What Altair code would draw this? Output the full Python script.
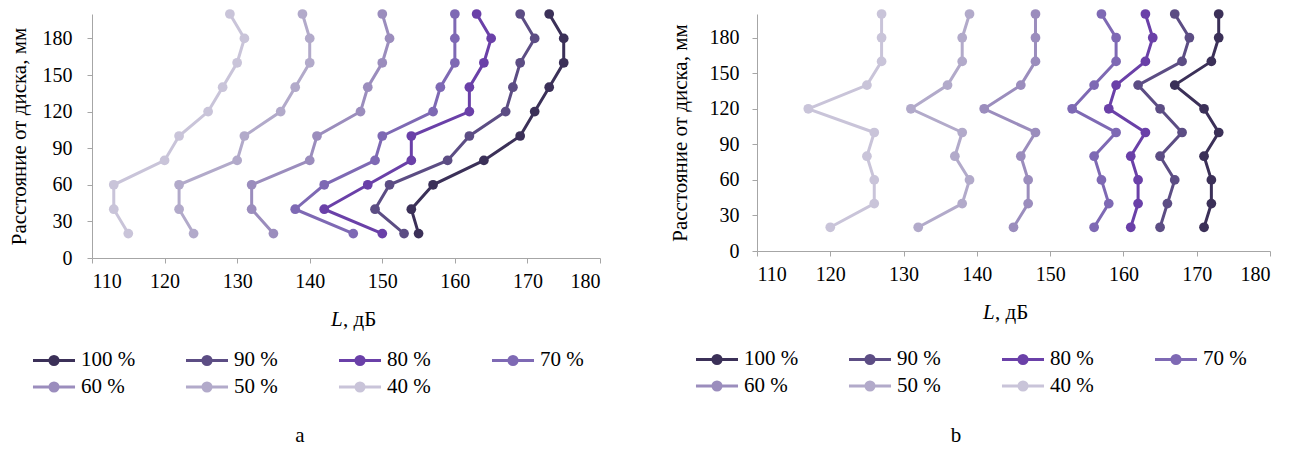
import altair as alt
import pandas as pd

# ---- data ----
distance = [20, 40, 60, 80, 100, 120, 140, 160, 180, 200]
series_names = ["100 %", "90 %", "80 %", "70 %", "60 %", "50 %", "40 %"]
series_colors = ["#3B3058", "#5C4D84", "#6A40A8", "#7E69B4", "#9B8DBD", "#B2AACA", "#C9C4D9"]

a_100 = [155, 154, 157, 164, 169, 171, 173, 175, 175, 173]
a_90 = [153, 149, 151, 159, 162, 167, 168, 169, 171, 169]
a_80 = [150, 142, 148, 154, 154, 162, 162, 164, 165, 163]
a_70 = [146, 138, 142, 149, 150, 157, 158, 160, 160, 160]
a_60 = [135, 132, 132, 140, 141, 147, 148, 150, 151, 150]
a_50 = [124, 122, 122, 130, 131, 136, 138, 140, 140, 139]
a_40 = [115, 113, 113, 120, 122, 126, 128, 130, 131, 129]

b_100 = [171, 172, 172, 171, 173, 171, 167, 172, 173, 173]
b_90 = [165, 166, 167, 165, 168, 165, 162, 168, 169, 167]
b_80 = [161, 162, 162, 161, 163, 158, 159, 163, 164, 163]
b_70 = [156, 158, 157, 156, 159, 153, 156, 159, 159, 157]
b_60 = [145, 147, 147, 146, 148, 141, 146, 148, 148, 148]
b_50 = [132, 138, 139, 137, 138, 131, 136, 138, 138, 139]
b_40 = [120, 126, 126, 125, 126, 117, 125, 127, 127, 127]

x_ticks = [110, 120, 130, 140, 150, 160, 170, 180]
y_ticks = [0, 30, 60, 90, 120, 150, 180]

y_title = "Расстояние от диска, мм"
x_title_italic = "L"
x_title_rest = ", дБ"

FONT = "Liberation Serif"
AXIS_GRAY = "#A6A6A6"

# legend symbol: a line with a dot (concentric rings make it look filled)
SYMBOL = ("M-1.45,0L1.45,0"
          "M-0.28,0A0.28,0.28,0,1,0,0.28,0A0.28,0.28,0,1,0,-0.28,0"
          "M-0.11,0A0.11,0.11,0,1,0,0.11,0A0.11,0.11,0,1,0,-0.11,0")


def make_df(cols):
    rows = []
    for name, vals in zip(series_names, cols):
        for d, v in zip(distance, vals):
            rows.append({"series": name, "L": v, "dist": d})
    return pd.DataFrame(rows)


def panel(cols, width, height, caption, legend_x, legend_y, tx, ty, cx, cy,
          label_pad, title_pad):
    df = make_df(cols)
    xenc = alt.X("L:Q", scale=alt.Scale(domain=[110, 180], nice=False, zero=False),
                 axis=alt.Axis(values=x_ticks, title=None, labelPadding=8,
                               labelFont=FONT, labelFontSize=20))
    yenc = alt.Y("dist:Q", scale=alt.Scale(domain=[0, 200], nice=False),
                 axis=alt.Axis(values=y_ticks, title=y_title, labelPadding=label_pad,
                               titlePadding=title_pad, labelFont=FONT, labelFontSize=20,
                               titleFont=FONT, titleFontSize=21))
    color = alt.Color(
        "series:N",
        scale=alt.Scale(domain=series_names, range=series_colors),
        legend=alt.Legend(
            title=None, orient="none", legendX=legend_x, legendY=legend_y,
            direction="horizontal", columns=4, gridAlign="all",
            columnPadding=43, rowPadding=0, symbolType=SYMBOL, symbolSize=841,
            symbolStrokeWidth=3, labelOffset=11, labelFont=FONT, labelFontSize=21,
            labelColor="black", padding=0,
        ),
    )
    line = alt.Chart(df).mark_line(
        strokeWidth=3,
        point=alt.OverlayMarkDef(filled=True, size=95, opacity=1, shape="circle"),
    ).encode(x=xenc, y=yenc, color=color, order="dist:Q")

    one = pd.DataFrame({"t": [x_title_italic]})
    t1 = alt.Chart(one).mark_text(font=FONT, fontSize=21, fontStyle="italic",
                                  align="left", baseline="middle", color="black").encode(
        x=alt.value(tx), y=alt.value(ty), text="t:N")
    two = pd.DataFrame({"t": [x_title_rest]})
    t2 = alt.Chart(two).mark_text(font=FONT, fontSize=21, align="left",
                                  baseline="middle", color="black").encode(
        x=alt.value(tx + 12), y=alt.value(ty), text="t:N")
    three = pd.DataFrame({"t": [caption]})
    t3 = alt.Chart(three).mark_text(font=FONT, fontSize=21, align="center",
                                    baseline="middle", color="black").encode(
        x=alt.value(cx), y=alt.value(cy), text="t:N")
    return alt.layer(line, t1, t2, t3).properties(width=width, height=height)


left = panel([a_100, a_90, a_80, a_70, a_60, a_50, a_40], 508, 244, "a",
             -54, 330, 239, 306, 208, 422, 15, 13)
right = panel([b_100, b_90, b_80, b_70, b_60, b_50, b_40], 513, 237, "b",
              -56, 329, 226, 299, 199, 422, 13, 19)

chart = (
    alt.hconcat(left, right, spacing=157, bounds="flush")
    .resolve_scale(color="independent")
    .resolve_legend(color="independent")
    .properties(padding={"left": 0, "top": 0, "right": 0, "bottom": 0})
    .configure(font=FONT)
    .configure_view(stroke=None)
    .configure_axis(
        grid=False, domainColor=AXIS_GRAY, tickColor=AXIS_GRAY, tickSize=5,
        domainWidth=1, tickWidth=1, labelColor="black", labelOverlap=False, format="d",
        titleFontWeight="normal", titleColor="black",
    )
)

chart.save("out.html", embed_options={"renderer": "svg", "actions": False})
